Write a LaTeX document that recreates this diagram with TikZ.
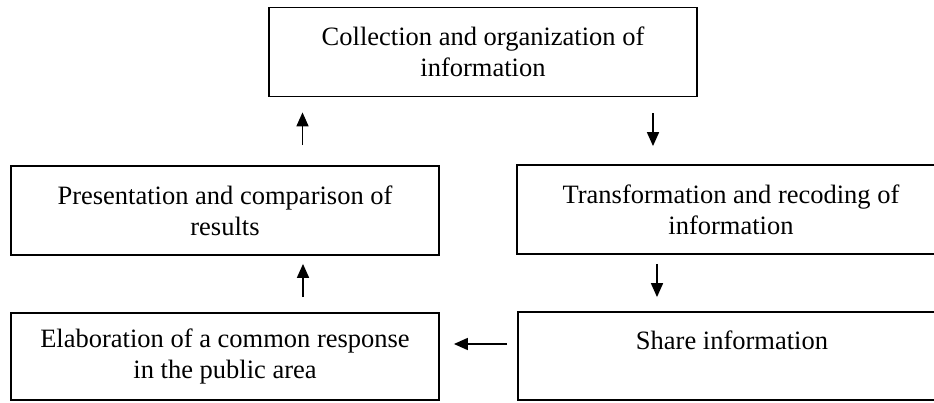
\documentclass[tikz,border=0pt]{standalone}
\usepackage{fontspec}
\setmainfont{Liberation Serif}
\usetikzlibrary{arrows.meta}
\tikzset{
  box/.style={draw, line width=1.8pt, minimum width=428pt, minimum height=89pt,
    align=center, inner sep=0pt, font=\fontsize{26.5}{31}\selectfont},
  arr/.style={-{Triangle[length=14pt,width=12pt]}, line width=1.7pt}
}
\begin{document}
\begin{tikzpicture}
\useasboundingbox (0,0) rectangle (934pt,-403pt);
\clip (0,0) rectangle (934pt,-403pt);
\node[box] (top) at (483pt,-52pt) {Collection and organization of\\information};
\node[box] (midL) at (225pt,-210.5pt) {Presentation and comparison of\\results};
\node[box] (midR) at (731pt,-209.5pt) {Transformation and recoding of\\information};
\node[box, minimum height=87pt] (botL) at (225pt,-356.5pt) {Elaboration of a common response\\in the public area};
\node[box, minimum height=88pt] (botR) at (732pt,-356pt) {Share information\\\mbox{}};
\draw[arr] ([xshift=77.5pt,yshift=20pt]midL.north) -- ([xshift=-180.5pt,yshift=-15pt]top.south);
\draw[arr] ([xshift=170pt,yshift=-16pt]top.south) -- ([xshift=-78pt,yshift=18pt]midR.north);
\draw[arr] ([xshift=78pt,yshift=15pt]botL.north) -- ([xshift=78pt,yshift=-8pt]midL.south);
\draw[arr] ([xshift=-74pt,yshift=-9pt]midR.south) -- ([xshift=-75pt,yshift=14pt]botR.north);
\draw[arr] ([xshift=-10pt,yshift=12pt]botR.west) -- ([xshift=14pt,yshift=12.5pt]botL.east);
\end{tikzpicture}
\end{document}
